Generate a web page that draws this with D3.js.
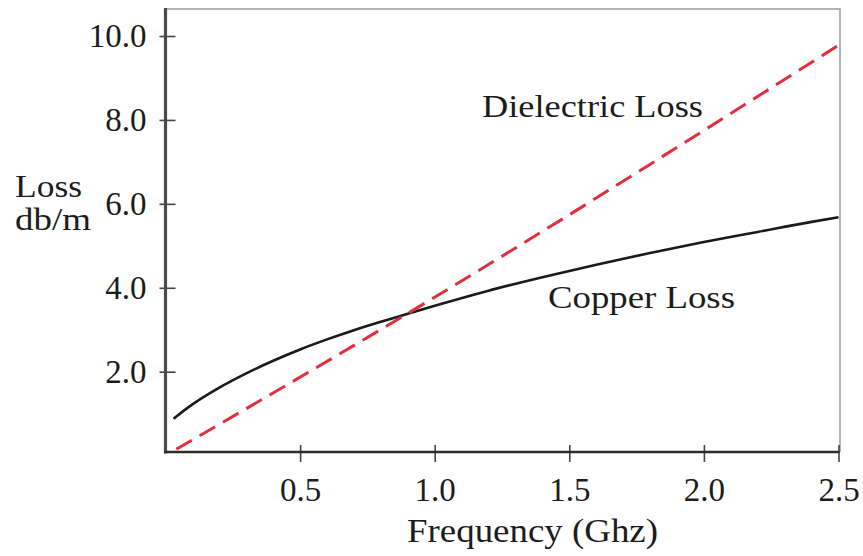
<!DOCTYPE html>
<html>
<head>
<meta charset="utf-8">
<script src="https://cdn.jsdelivr.net/npm/d3@7/dist/d3.min.js"></script>
<style>
  html, body { margin: 0; padding: 0; background: #fff; }
  svg { display: block; }
  text { font-family: "Liberation Serif", "Times New Roman", serif; fill: #1c1c1c; }
</style>
</head>
<body>
<svg id="chart" width="863" height="556"></svg>
<script>
// Frequency (GHz) and loss (dB/m) samples for each loss mechanism
const copperFreq = [0.03, 0.1, 0.2, 0.3, 0.4, 0.5, 0.6, 0.7, 0.8, 0.9, 1.0, 1.2, 1.4, 1.6, 1.8, 2.0, 2.2, 2.4, 2.5];
const copperLoss = [0.88, 1.22, 1.62, 1.96, 2.26, 2.53, 2.77, 2.99, 3.19, 3.38, 3.57, 3.93, 4.25, 4.55, 4.83, 5.09, 5.33, 5.57, 5.68];
const dielectricFreq = [0.04, 0.89, 2.5];
const dielectricLoss = [0.15, 3.35, 9.78];

const xTicks = [0.5, 1.0, 1.5, 2.0, 2.5];
const yTicks = [2, 4, 6, 8, 10];

const svg = d3.select("#chart");

const x = d3.scaleLinear().domain([0, 2.5]).range([165.5, 838.5]);
const y = d3.scaleLinear().domain([0, 10]).range([455.6, 36]);

const axisY = 452;   // pixel row of the frequency axis
const topY = 8;      // top of the plot frame
const rightX = 840;  // right edge of the plot frame

// light frame on top and right
svg.append("path")
  .attr("d", `M${x(0)},${topY + 1}H${rightX}V${axisY}`)
  .attr("fill", "none")
  .attr("stroke", "#9a9a9a")
  .attr("stroke-width", 1.5);

// curves
const copper = copperFreq.map((f, i) => [f, copperLoss[i]]);
const dielectric = dielectricFreq.map((f, i) => [f, dielectricLoss[i]]);

const line = d3.line().x(d => x(d[0])).y(d => y(d[1])).curve(d3.curveMonotoneX);

svg.append("path")
  .datum(copper)
  .attr("d", line)
  .attr("fill", "none")
  .attr("stroke", "#1a1a1a")
  .attr("stroke-width", 2.6);

svg.append("path")
  .datum(dielectric)
  .attr("d", line)
  .attr("fill", "none")
  .attr("stroke", "#e0303f")
  .attr("stroke-width", 3)
  .attr("stroke-dasharray", "18,9");

// y axis
const gy = svg.append("g")
  .attr("transform", `translate(${x(0)},0)`)
  .call(d3.axisLeft(y).tickValues(yTicks).tickFormat(d3.format(".1f")).tickSize(6).tickPadding(13));
gy.select(".domain").remove();
gy.append("line")
  .attr("x1", 0).attr("x2", 0)
  .attr("y1", topY).attr("y2", axisY + 1.5)
  .attr("stroke", "#4a4a4a").attr("stroke-width", 3.2);
gy.selectAll(".tick line").attr("x1", -6).attr("x2", 10).attr("stroke", "#444").attr("stroke-width", 1.6);
gy.selectAll(".tick text")
  .attr("font-size", 33)
  .attr("dy", "0.32em")
  .attr("fill", "#1c1c1c");

// x axis
const gx = svg.append("g")
  .attr("transform", `translate(0,${axisY})`)
  .call(d3.axisBottom(x).tickValues(xTicks).tickFormat(d3.format(".1f")).tickSize(10).tickPadding(16));
gx.select(".domain").remove();
gx.append("line")
  .attr("x1", x(0) - 1.5).attr("x2", x(2.5) + 1)
  .attr("y1", 0).attr("y2", 0)
  .attr("stroke", "#2a2a2a").attr("stroke-width", 2.6);
gx.selectAll(".tick line").attr("y1", -7).attr("y2", 10).attr("stroke", "#444").attr("stroke-width", 1.6);
gx.selectAll(".tick text")
  .attr("font-size", 33)
  .attr("dy", "0.71em")
  .attr("fill", "#1c1c1c");

// axis titles
svg.append("text")
  .attr("x", 407).attr("y", 542)
  .attr("font-size", 33)
  .attr("textLength", 251).attr("lengthAdjust", "spacingAndGlyphs")
  .text("Frequency (Ghz)");

svg.append("text")
  .attr("x", 15).attr("y", 197)
  .attr("font-size", 31)
  .attr("textLength", 67).attr("lengthAdjust", "spacingAndGlyphs")
  .text("Loss");
svg.append("text")
  .attr("x", 15).attr("y", 230)
  .attr("font-size", 31)
  .attr("textLength", 76).attr("lengthAdjust", "spacingAndGlyphs")
  .text("db/m");

// curve annotations
svg.append("text")
  .attr("x", 482).attr("y", 117)
  .attr("font-size", 32)
  .attr("textLength", 221).attr("lengthAdjust", "spacingAndGlyphs")
  .text("Dielectric Loss");

svg.append("text")
  .attr("x", 548).attr("y", 308)
  .attr("font-size", 32)
  .attr("textLength", 187).attr("lengthAdjust", "spacingAndGlyphs")
  .text("Copper Loss");
</script>
</body>
</html>
